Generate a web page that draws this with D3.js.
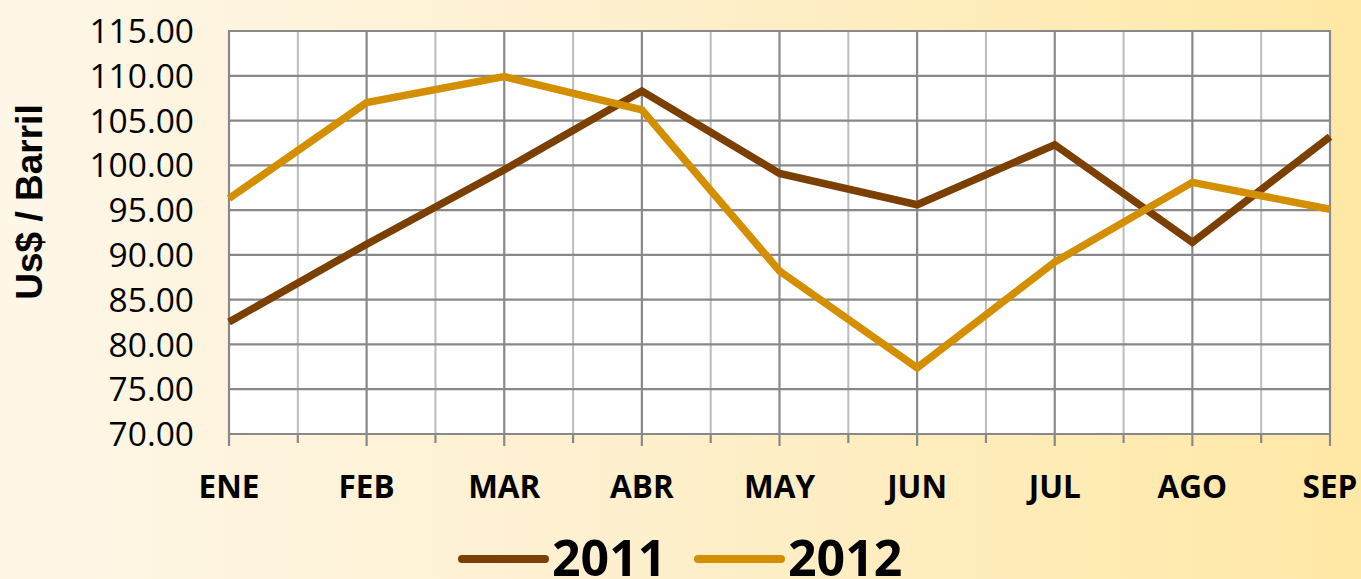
<!DOCTYPE html>
<html lang="es">
<head>
<meta charset="utf-8">
<title>Us$ / Barril 2011 - 2012</title>
<style>
  html, body { margin: 0; padding: 0; }
  body { width: 1361px; height: 579px; overflow: hidden; }
  svg { display: block; }
  .ytick { font-family: "Open Sans", sans-serif; font-size: 33.5px; fill: #000; }
  .xtick { font-family: "Open Sans", sans-serif; font-size: 31.5px; font-weight: bold; fill: #000; }
  .legend { font-family: "Open Sans", sans-serif; font-size: 50px; font-weight: bold; fill: #000; }
  .ytitle { font-family: "Liberation Sans", Arial, sans-serif; font-size: 37px; font-weight: bold; fill: #000; }
</style>
</head>
<body>
<div id="chart"></div>
<script src="https://d3js.org/d3.v7.min.js"></script>
<script>
// chart data
var months = ["ENE", "FEB", "MAR", "ABR", "MAY", "JUN", "JUL", "AGO", "SEP"];
var values2011 = [82.5, 91.2, 99.5, 108.3, 99.1, 95.6, 102.3, 91.4, 103.2];
var values2012 = [96.3, 107.0, 109.9, 106.2, 88.2, 77.4, 89.2, 98.1, 95.1];
var yTicks = [70, 75, 80, 85, 90, 95, 100, 105, 110, 115];
var seriesNames = ["2011", "2012"];

var W = 1361, H = 579;
var plotLeft = 229, plotRight = 1330, plotTop = 31, plotBottom = 434;

var svg = d3.select("#chart").append("svg")
    .attr("width", W)
    .attr("height", H);

// background gradient
var grad = svg.append("defs").append("linearGradient")
    .attr("id", "bg")
    .attr("x1", "0").attr("y1", "0")
    .attr("x2", "1").attr("y2", "0");
grad.append("stop").attr("offset", "0").attr("stop-color", "#fef7e8");
grad.append("stop").attr("offset", "0.45").attr("stop-color", "#fef0cf");
grad.append("stop").attr("offset", "1").attr("stop-color", "#ffe8a5");

svg.append("rect").attr("width", W).attr("height", H).attr("fill", "url(#bg)");

var x = d3.scalePoint().domain(months).range([plotLeft, plotRight]);
var y = d3.scaleLinear().domain([70, 115]).range([plotBottom, plotTop]);

// plot area
svg.append("rect")
    .attr("x", plotLeft).attr("y", plotTop)
    .attr("width", plotRight - plotLeft).attr("height", plotBottom - plotTop)
    .attr("fill", "#fff");

// minor vertical grid (between months)
var mids = months.slice(1).map(function(m, i) {
  return (x(months[i]) + x(m)) / 2;
});
svg.append("g").selectAll("line")
  .data(mids)
  .enter().append("line")
    .attr("x1", function(d) { return d; })
    .attr("x2", function(d) { return d; })
    .attr("y1", plotTop).attr("y2", plotBottom)
    .attr("stroke", "#bdbdbd")
    .attr("stroke-width", 2);

// horizontal grid
svg.append("g").selectAll("line")
  .data(yTicks)
  .enter().append("line")
    .attr("x1", plotLeft).attr("x2", plotRight)
    .attr("y1", function(d) { return y(d); })
    .attr("y2", function(d) { return y(d); })
    .attr("stroke", "#898989")
    .attr("stroke-width", 2.2);

// major vertical grid + ticks
svg.append("g").selectAll("line")
  .data(months)
  .enter().append("line")
    .attr("x1", function(d) { return x(d); })
    .attr("x2", function(d) { return x(d); })
    .attr("y1", plotTop - 1).attr("y2", plotBottom + 12)
    .attr("stroke", "#898989")
    .attr("stroke-width", 2.2);

// minor ticks below axis
svg.append("g").selectAll("line")
  .data(mids)
  .enter().append("line")
    .attr("x1", function(d) { return d; })
    .attr("x2", function(d) { return d; })
    .attr("y1", plotBottom).attr("y2", plotBottom + 9)
    .attr("stroke", "#898989")
    .attr("stroke-width", 2.2);

// y tick labels
svg.append("g").selectAll("text")
  .data(yTicks)
  .enter().append("text")
    .attr("class", "ytick")
    .attr("x", plotLeft - 35)
    .attr("y", function(d) { return y(d); })
    .attr("dy", "0.36em")
    .attr("text-anchor", "end")
    .text(function(d) { return d.toFixed(2); });

// x tick labels
svg.append("g").selectAll("text")
  .data(months)
  .enter().append("text")
    .attr("class", "xtick")
    .attr("x", function(d) { return x(d); })
    .attr("y", 498)
    .attr("text-anchor", "middle")
    .text(function(d) { return d; });

// y title
svg.append("text")
    .attr("class", "ytitle")
    .attr("transform", "translate(42,202) rotate(-90)")
    .attr("text-anchor", "middle")
    .text("Us$ / Barril");

// lines
var line = d3.line()
    .x(function(d, i) { return x(months[i]); })
    .y(function(d) { return y(d); });

var colors = ["#7b3f00", "#d48f00"];
[values2011, values2012].forEach(function(vals, k) {
  svg.append("path")
      .datum(vals)
      .attr("d", line)
      .attr("fill", "none")
      .attr("stroke", colors[k])
      .attr("stroke-width", 7.5)
      .attr("stroke-linejoin", "miter");
});

// legend
var legendX = [462, 698];
seriesNames.forEach(function(name, k) {
  svg.append("line")
      .attr("x1", legendX[k]).attr("x2", legendX[k] + 83)
      .attr("y1", 559).attr("y2", 559)
      .attr("stroke", colors[k])
      .attr("stroke-width", 8)
      .attr("stroke-linecap", "round");
  svg.append("text")
      .attr("class", "legend")
      .attr("x", legendX[k] + 90)
      .attr("y", 576)
      .text(name);
});
</script>
</body>
</html>
